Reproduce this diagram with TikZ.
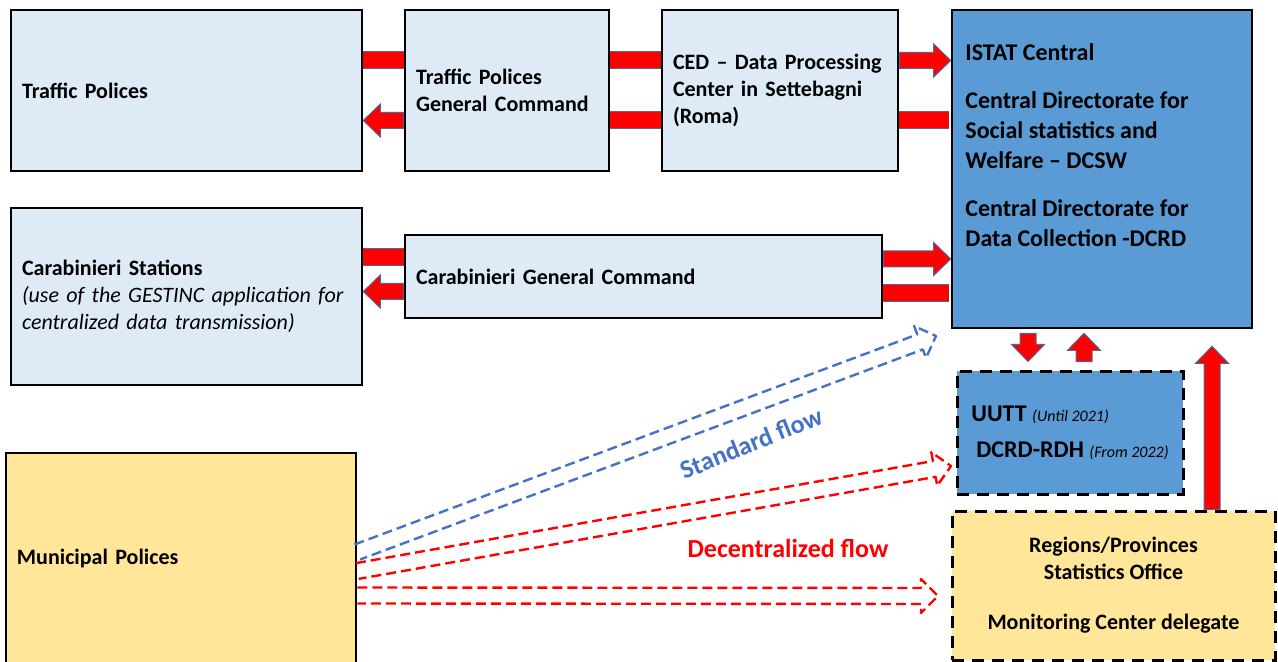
\documentclass[tikz,border=0pt]{standalone}
\usepackage{fontspec}
\setmainfont{Carlito}
\usetikzlibrary{
    arrows.meta,
    calc,
    positioning
}
\definecolor{paleblue}{HTML}{DEEBF7}
\definecolor{midblue}{HTML}{5B9BD5}
\definecolor{paleyellow}{HTML}{FFE699}
\definecolor{flowblue}{HTML}{4472C4}
\definecolor{fatred}{HTML}{FF0000}
\definecolor{edgeblue}{HTML}{4A6A9A}

\newcommand{\blockarrow}[2]{%
    \path (#2) coordinate (ba-t) ($(#2)!8.5pt!(#1)$) coordinate (ba-n);
    \draw[fatbox] ($(#1)!4pt!90:(ba-t)$) -- ($(ba-n)!4pt!90:(ba-t)$) -- ($(ba-n)!8.25pt!90:(ba-t)$)
        -- (ba-t) -- ($(ba-n)!8.25pt!-90:(ba-t)$) -- ($(ba-n)!4pt!-90:(ba-t)$) -- ($(#1)!4pt!-90:(ba-t)$) -- cycle;
}
\newcommand{\flowarrow}[3]{%
    \path (#3) coordinate (fa-t) ($(#3)!8.5pt!(#2)$) coordinate (fa-n);
    \draw[#1] ($(#2)!4pt!90:(fa-t)$) -- ($(fa-n)!4pt!90:(fa-t)$) -- ($(fa-n)!8.5pt!90:(fa-t)$)
        -- (fa-t) -- ($(fa-n)!8.5pt!-90:(fa-t)$) -- ($(fa-n)!4pt!-90:(fa-t)$) -- ($(#2)!4pt!-90:(fa-t)$);
}

\begin{document}
\begin{tikzpicture}[x=0.5pt, y=-0.5pt,
    box/.style={draw, line width=1.3pt, fill=paleblue, inner xsep=5.5pt, align=left,
        font=\fontsize{11}{13.5}\selectfont\bfseries},
    dbox/.style={draw, line width=1.5pt, dash pattern=on 6pt off 4pt, inner xsep=5.5pt},
    fatbox/.style={draw=edgeblue, line width=0.5pt, fill=fatred},
    fatbar/.style={draw=fatred, line width=8pt, preaction={draw=edgeblue, line width=9pt}},
    flow/.style={line width=1.2pt, dash pattern=on 5pt off 2.5pt, line join=round}]
                        \useasboundingbox (0,0) rectangle (1278,662);

                        \node[box, minimum width=175.5pt, minimum height=80.5pt, text width=164.5pt] (tp) at (186.5,90.5) {Traffic Polices};
                        \node[box, minimum width=102pt, minimum height=80.5pt, text width=91pt] (tpgc) at (507,90.5) {Traffic Polices\\General Command};
                        \node[box, minimum width=118pt, minimum height=80.5pt, text width=107pt] (ced) at (780,90.5) {CED -- Data Processing\\Center in Settebagni\\(Roma)};
                        \node[box, fill=midblue, minimum width=150pt, minimum height=159pt] (istat) at (1102,169) {};
                        \node[anchor=north west, align=left, inner sep=0pt, font=\fontsize{12}{15}\selectfont\bfseries] (istattxt) at (965,43)
                            {ISTAT Central\\[9pt]Central Directorate for\\Social statistics and\\Welfare -- DCSW\\[9pt]Central Directorate for\\Data Collection -DCRD};
                        \node[box, minimum width=175.5pt, minimum height=88.5pt, text width=164.5pt] (cs) at (186.5,296.5)
                            {Carabinieri Stations\\\mdseries\itshape (use of the GESTINC application for\\\mdseries\itshape centralized data transmission)};
                        \node[box, minimum width=238.5pt, minimum height=41.5pt, text width=227.5pt] (cgc) at (643.5,276.5) {Carabinieri General Command};
                        \node[dbox, fill=midblue, minimum width=113pt, minimum height=61.5pt, align=left,
                            font=\fontsize{12}{18}\selectfont\bfseries] (uutt) at (1070,432.5)
                            {UUTT {\mdseries\itshape\fontsize{8}{18}\selectfont (Until 2021)}\\\hspace{2.5pt}DCRD-RDH {\mdseries\itshape\fontsize{8}{18}\selectfont (From 2022)}};
                        \node[dbox, fill=paleyellow, minimum width=161.5pt, minimum height=74.5pt, align=center,
                            font=\fontsize{11}{13.5}\selectfont\bfseries] (reg) at (1113.5,585.5)
                            {Regions/Provinces\\Statistics Office\\[11.5pt]Monitoring Center delegate};
                        \node[box, fill=paleyellow, minimum width=175pt, minimum height=105.5pt, text width=164pt] (mp) at (181,558.5) {Municipal Polices};

                        \draw[fatbar] ([yshift=15pt]tp.east) -- ([yshift=15pt]tpgc.west);
                        \blockarrow{[yshift=-15pt]tpgc.west}{[yshift=-15pt]tp.east}
                        \draw[fatbar] ([yshift=15pt]tpgc.east) -- ([yshift=15pt]ced.west);
                        \draw[fatbar] ([yshift=-15pt]tpgc.east) -- ([yshift=-15pt]ced.west);
                        \blockarrow{[yshift=15pt]ced.east}{[yshift=15pt]ced.east -| istat.west}
                        \draw[fatbar] ([yshift=-15pt]ced.east) -- ([yshift=-15pt,xshift=-1pt]ced.east -| istat.west);
                        \draw[fatbar] ([yshift=9.5pt]cgc.west -| cs.east) -- ([yshift=9.5pt]cgc.west);
                        \blockarrow{[yshift=-7.5pt]cgc.west}{[yshift=-7.5pt]cgc.west -| cs.east}
                        \blockarrow{[yshift=8.75pt]cgc.east}{[yshift=8.75pt]cgc.east -| istat.west}
                        \draw[fatbar] ([yshift=-8.25pt]cgc.east) -- ([yshift=-8.25pt,xshift=-1pt]cgc.east -| istat.west);
                        \blockarrow{[xshift=-37pt,yshift=-2pt]istat.south}{[xshift=-37pt,yshift=4pt]istat.south |- uutt.north}
                        \blockarrow{[xshift=-9pt,yshift=4pt]istat.south |- uutt.north}{[xshift=-9pt,yshift=-2pt]istat.south}
                        \blockarrow{[xshift=49.25pt]reg.north}{[xshift=49.25pt,yshift=-8.5pt]reg.north |- istat.south}

                        \coordinate (stdtail) at ([yshift=3.25pt]mp.east);
                        \coordinate (stdtip) at (936,336);
                        \coordinate (dectail) at ([yshift=-6.25pt]mp.east);
                        \coordinate (dectip) at (951,466);
                        \coordinate (dectail2) at ([yshift=-18.5pt]mp.east);
                        \coordinate (dectip2) at (938,596);
                        \flowarrow{flow, draw=flowblue}{stdtail}{stdtip}
                        \flowarrow{flow, draw=fatred}{dectail}{dectip}
                        \flowarrow{flow, draw=fatred}{dectail2}{dectip2}

                        \node[rotate=22, text=flowblue, font=\fontsize{13}{15}\selectfont\bfseries] (stdlbl) at (751,443) {Standard flow};
                        \node[text=fatred, font=\fontsize{13}{15}\selectfont\bfseries] (declbl) at (788,548) {Decentralized flow};
                    \end{tikzpicture}
\end{document}
